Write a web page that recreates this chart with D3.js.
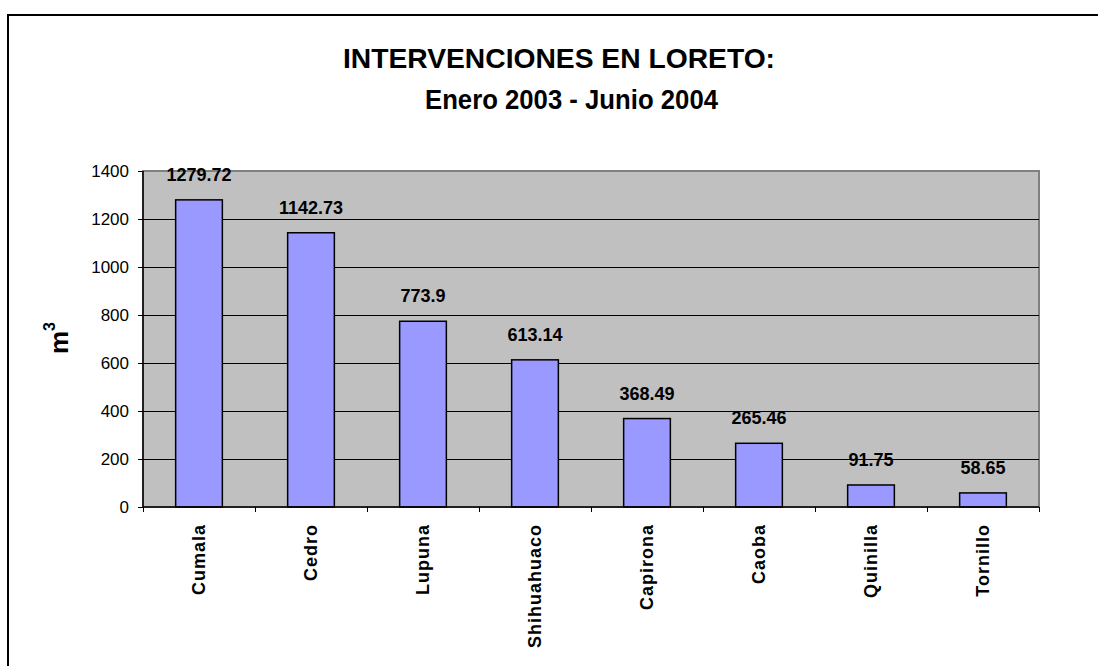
<!DOCTYPE html>
<html>
<head>
<meta charset="utf-8">
<script src="https://cdn.jsdelivr.net/npm/d3@7"></script>
<style>
  body { margin: 0; background: #fff; }
  svg { display: block; font-family: Arial, "Liberation Sans", sans-serif; }
</style>
</head>
<body>
<svg id="chart" width="1098" height="666"></svg>
<script>
// Intervenciones en Loreto, volumes in m3
var species = ["Cumala", "Cedro", "Lupuna", "Shihuahuaco", "Capirona", "Caoba", "Quinilla", "Tornillo"];
var volumes = [1279.72, 1142.73, 773.9, 613.14, 368.49, 265.46, 91.75, 58.65];
var yTicks = [0, 200, 400, 600, 800, 1000, 1200, 1400];
var titleLines = ["INTERVENCIONES EN LORETO:", "Enero 2003 - Junio 2004"];

var plot = { left: 143, right: 1039, top: 171, bottom: 507 };

var svg = d3.select("#chart");

// outer chart border (runs off the right and bottom of the picture)
svg.append("rect")
  .attr("x", 8).attr("y", 15)
  .attr("width", 1100).attr("height", 670)
  .attr("fill", "none")
  .attr("stroke", "#000")
  .attr("stroke-width", 2);

var x = d3.scaleBand()
  .domain(species)
  .range([plot.left, plot.right])
  .paddingInner(0.583)
  .paddingOuter(0.2915);

var y = d3.scaleLinear()
  .domain([0, 1400])
  .range([plot.bottom, plot.top]);

// plot area
svg.append("rect")
  .attr("x", plot.left).attr("y", plot.top)
  .attr("width", plot.right - plot.left)
  .attr("height", plot.bottom - plot.top)
  .attr("fill", "#c0c0c0")
  .attr("stroke", "#808080")
  .attr("stroke-width", 2);

// gridlines
svg.append("g")
  .selectAll("line")
  .data(yTicks.filter(d => d > 0 && d < 1400))
  .join("line")
  .attr("x1", plot.left).attr("x2", plot.right)
  .attr("y1", d => y(d) + 0.5).attr("y2", d => y(d) + 0.5)
  .attr("stroke", "#000")
  .attr("stroke-width", 1)
  .attr("shape-rendering", "crispEdges");

// bars
svg.append("g")
  .selectAll("rect")
  .data(volumes)
  .join("rect")
  .attr("x", (d, i) => x(species[i]))
  .attr("y", d => y(d))
  .attr("width", x.bandwidth())
  .attr("height", d => y(0) - y(d))
  .attr("fill", "#9999ff")
  .attr("stroke", "#000")
  .attr("stroke-width", 1.5);

// value labels
svg.append("g")
  .selectAll("text")
  .data(volumes)
  .join("text")
  .attr("x", (d, i) => x(species[i]) + x.bandwidth() / 2)
  .attr("y", d => y(d) - 19)
  .attr("text-anchor", "middle")
  .attr("font-size", 18)
  .attr("font-weight", "bold")
  .text(d => d);

// y axis
var yAxis = svg.append("g")
  .attr("transform", "translate(" + plot.left + ",0)")
  .call(d3.axisLeft(y).tickValues(yTicks).tickSize(5).tickPadding(9).tickFormat(d3.format("d")));
yAxis.select(".domain").attr("stroke", "#000").attr("stroke-width", 1.5).attr("d", "M0," + plot.top + "V" + plot.bottom);
yAxis.selectAll(".tick line").attr("stroke", "#000").attr("shape-rendering", "crispEdges");
yAxis.selectAll(".tick text")
  .attr("font-family", "Arial, 'Liberation Sans', sans-serif")
  .attr("font-size", 17)
  .attr("fill", "#000");

// x axis line and ticks at category boundaries
var bounds = d3.range(species.length + 1).map(i => plot.left + i * x.step());
svg.append("line")
  .attr("x1", plot.left).attr("x2", plot.right)
  .attr("y1", plot.bottom).attr("y2", plot.bottom)
  .attr("stroke", "#000").attr("stroke-width", 1.5);
svg.append("g")
  .selectAll("line")
  .data(bounds)
  .join("line")
  .attr("x1", d => d + 0.5).attr("x2", d => d + 0.5)
  .attr("y1", plot.bottom).attr("y2", plot.bottom + 5)
  .attr("stroke", "#000")
  .attr("shape-rendering", "crispEdges");

// category labels, rotated
svg.append("g")
  .selectAll("text")
  .data(species)
  .join("text")
  .attr("transform", d => "translate(" + (x(d) + x.bandwidth() / 2) + "," + 524 + ") rotate(-90)")
  .attr("dy", "0.36em")
  .attr("text-anchor", "end")
  .attr("font-size", 18)
  .attr("font-weight", "bold")
  .attr("letter-spacing", 1)
  .text(d => d);

// y axis title m³
var yTitle = svg.append("text")
  .attr("transform", "translate(68,354) rotate(-90)")
  .attr("font-size", 26)
  .attr("font-weight", "bold");
yTitle.append("tspan").text("m");
yTitle.append("tspan").attr("dy", -13).attr("font-size", 16).text("3");

// chart title, each line fitted to the width it has in the original
var titleX = [559, 571.5];
var titleWidth = [432, 293];
svg.append("g")
  .selectAll("text")
  .data(titleLines)
  .join("text")
  .attr("x", (d, i) => titleX[i])
  .attr("y", (d, i) => 68 + i * 41)
  .attr("text-anchor", "middle")
  .attr("font-size", 28)
  .attr("font-weight", "bold")
  .attr("textLength", (d, i) => titleWidth[i])
  .attr("lengthAdjust", "spacingAndGlyphs")
  .text(d => d);
</script>
</body>
</html>
